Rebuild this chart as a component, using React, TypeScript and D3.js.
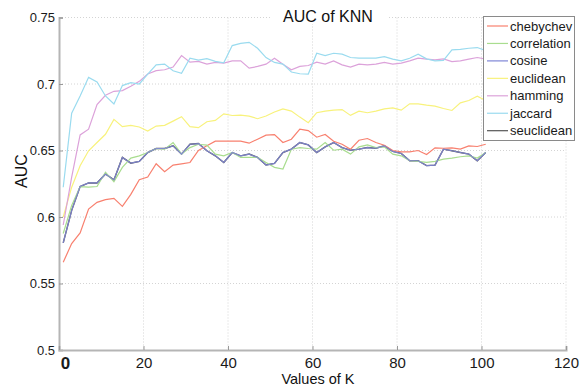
import React, { useEffect, useRef } from "react";
import * as d3 from "d3";

// K = 1, 3, 5, ..., 101
const kValues = d3.range(1, 102, 2);

const seriesNames = ["chebychev", "correlation", "cosine", "euclidean", "hamming", "jaccard", "seuclidean"];

const chebychev = [0.566, 0.580, 0.588, 0.606, 0.611, 0.613, 0.614, 0.608, 0.617, 0.628,
  0.630, 0.640, 0.634, 0.639, 0.640, 0.641, 0.650, 0.6535, 0.657, 0.657,
  0.657, 0.657, 0.6555, 0.6585, 0.6615, 0.662, 0.656, 0.6585, 0.666, 0.665,
  0.660, 0.662, 0.657, 0.6547, 0.651, 0.6577, 0.659, 0.656, 0.654, 0.650,
  0.649, 0.649, 0.650, 0.647, 0.652, 0.6517, 0.652, 0.651, 0.6535, 0.653,
  0.6547];

const correlation = [0.5876, 0.6087, 0.6229, 0.6224, 0.6229, 0.6336, 0.6266, 0.6373, 0.6443, 0.646,
  0.6485, 0.6515, 0.651, 0.656, 0.6473, 0.6522, 0.6547, 0.654, 0.6473, 0.646,
  0.6485, 0.6448, 0.6448, 0.6448, 0.641, 0.6373, 0.6361, 0.651, 0.6522, 0.6515,
  0.651, 0.656, 0.6502, 0.651, 0.6473, 0.6527, 0.6542, 0.6522, 0.6527, 0.6473,
  0.646, 0.6423, 0.6418, 0.6411, 0.6418, 0.6435, 0.6443, 0.6453, 0.646, 0.6443,
  0.6485];

const cosine = [0.5806, 0.605, 0.6229, 0.6256, 0.6256, 0.6323, 0.6279, 0.6448, 0.6405, 0.6418,
  0.6485, 0.6515, 0.6515, 0.6535, 0.6473, 0.6547, 0.6552, 0.6498, 0.646, 0.641,
  0.6485, 0.646, 0.6473, 0.6448, 0.6391, 0.6403, 0.6485, 0.651, 0.656, 0.6542,
  0.6485, 0.6527, 0.656, 0.6522, 0.6502, 0.651, 0.6522, 0.6517, 0.6535, 0.6493,
  0.6478, 0.6423, 0.6423, 0.6386, 0.639, 0.651, 0.6498, 0.6485, 0.6473, 0.6423,
  0.6485];

const euclidean = [0.600, 0.6224, 0.6386, 0.6498, 0.656, 0.6622, 0.6734, 0.6679, 0.6689, 0.6677,
  0.6647, 0.6684, 0.6689, 0.6721, 0.6754, 0.6679, 0.6672, 0.6716, 0.6726, 0.6776,
  0.6763, 0.6766, 0.6759, 0.6739, 0.6759, 0.6789, 0.6813, 0.6796, 0.6751, 0.6709,
  0.6784, 0.6796, 0.6804, 0.6808, 0.6764, 0.6796, 0.6784, 0.6796, 0.6813, 0.6821,
  0.6803, 0.6851, 0.6851, 0.6841, 0.6833, 0.6816, 0.6801, 0.6858, 0.6876, 0.6908,
  0.6876];

const hamming = [0.594, 0.630, 0.6617, 0.666, 0.6846, 0.6915, 0.6945, 0.695, 0.6983, 0.702,
  0.7075, 0.710, 0.7107, 0.7127, 0.7214, 0.7164, 0.717, 0.7149, 0.7162, 0.7157,
  0.7174, 0.7174, 0.7119, 0.7132, 0.7149, 0.7194, 0.7149, 0.7107, 0.7132, 0.7139,
  0.7164, 0.7149, 0.7174, 0.7144, 0.7127, 0.7149, 0.7144, 0.7149, 0.7162, 0.7149,
  0.7157, 0.7174, 0.7194, 0.7187, 0.7182, 0.7189, 0.7169, 0.7174, 0.7187, 0.7199,
  0.7187];

const jaccard = [0.6224, 0.678, 0.691, 0.705, 0.7015, 0.691, 0.685, 0.6988, 0.701, 0.700,
  0.7075, 0.7144, 0.715, 0.710, 0.708, 0.7194, 0.718, 0.719, 0.717, 0.7159,
  0.7289, 0.7306, 0.7313, 0.7269, 0.7199, 0.7162, 0.715, 0.709, 0.7077, 0.7075,
  0.7231, 0.7214, 0.7231, 0.7224, 0.7199, 0.7194, 0.7194, 0.7194, 0.7206, 0.7187,
  0.7174, 0.7194, 0.7224, 0.7189, 0.7174, 0.7177, 0.7256, 0.7261, 0.7269, 0.7274,
  0.7251];

// seuclidean sits right on top of cosine in the picture
const seuclidean = [0.5806, 0.605, 0.6229, 0.6256, 0.6256, 0.6323, 0.6279, 0.6448, 0.6405, 0.6418,
  0.6485, 0.6515, 0.6515, 0.6535, 0.6473, 0.6547, 0.6552, 0.6498, 0.646, 0.641,
  0.6485, 0.646, 0.6473, 0.6448, 0.6391, 0.6403, 0.6485, 0.651, 0.656, 0.6542,
  0.6485, 0.6527, 0.656, 0.6522, 0.6502, 0.651, 0.6522, 0.6517, 0.6535, 0.6493,
  0.6478, 0.6423, 0.6423, 0.6386, 0.639, 0.651, 0.6498, 0.6485, 0.6473, 0.6423,
  0.6485];

const xTicks = [0, 20, 40, 60, 80, 100, 120];
const yTicks = [0.5, 0.55, 0.6, 0.65, 0.7, 0.75];

const colors = ["#f8806f", "#a9dd8f", "#7f86d6", "#f8f27c", "#dca2da", "#9adbef", "#555555"];

const App = () => {
  const svgRef = useRef<SVGSVGElement>(null);

  useEffect(() => {
    const width = 588;
    const height = 387;
    const font = "'Liberation Sans', Arial, sans-serif";

    const svg = d3.select(svgRef.current)
      .attr("width", width)
      .attr("height", height);
    svg.selectAll("*").remove();

    svg.append("rect").attr("width", width).attr("height", height).attr("fill", "#fff");

    const x = d3.scaleLinear().domain([0, 120]).range([59, 566]);
    const y = d3.scaleLinear().domain([0.5, 0.75]).range([350, 17.5]);

    // grid
    const grid = svg.append("g")
      .attr("stroke", "#d4d4d4")
      .attr("stroke-width", 1)
      .attr("stroke-dasharray", "1,2");
    grid.selectAll(".gx")
      .data(xTicks.slice(1))
      .join("line")
      .attr("x1", d => x(d)).attr("x2", d => x(d))
      .attr("y1", y(0.75)).attr("y2", y(0.5));
    grid.selectAll(".gy")
      .data(yTicks.slice(1))
      .join("line")
      .attr("x1", x(0)).attr("x2", x(120))
      .attr("y1", d => y(d)).attr("y2", d => y(d));

    // lines
    const allSeries = [chebychev, correlation, cosine, euclidean, hamming, jaccard, seuclidean];
    const line = d3.line<number>()
      .x((d, i) => x(kValues[i]))
      .y(d => y(d));
    const drawOrder = [6, 0, 1, 3, 4, 5, 2];
    svg.append("g")
      .attr("fill", "none")
      .selectAll("path")
      .data(drawOrder)
      .join("path")
      .attr("d", i => line(allSeries[i]))
      .attr("stroke", i => colors[i])
      .attr("stroke-width", i => (i === 6 ? 1.4 : 1.2))
      .attr("stroke-opacity", i => (i === 2 ? 0.9 : 1));

    // axes
    const yAxis = svg.append("g")
      .attr("transform", `translate(${x(0)},0)`)
      .call(d3.axisLeft(y).tickValues(yTicks).tickFormat(d => String(d)).tickSize(-4).tickPadding(4));
    yAxis.select(".domain").attr("stroke", "#b5b5b5").attr("stroke-width", 2);
    yAxis.selectAll(".tick line").attr("stroke", "#999");
    yAxis.selectAll(".tick text")
      .attr("font-family", font)
      .attr("font-size", 13)
      .attr("fill", "#1a1a1a");

    const xAxis = svg.append("g")
      .attr("transform", `translate(0,${y(0.5)})`)
      .call(d3.axisBottom(x).tickValues(xTicks).tickFormat(d => String(d)).tickSize(-4).tickPadding(7));
    xAxis.select(".domain").attr("stroke", "#b5b5b5").attr("stroke-width", 2);
    xAxis.selectAll(".tick line").attr("stroke", "#999");
    xAxis.selectAll(".tick text")
      .attr("font-family", font)
      .attr("font-size", 15)
      .attr("fill", "#1a1a1a");
    xAxis.selectAll<SVGTextElement, number>(".tick text")
      .filter(d => d === 0)
      .attr("x", 6)
      .attr("font-weight", "bold")
      .attr("font-size", 17);

    // title
    svg.append("rect")
      .attr("x", 270).attr("y", 8).attr("width", 118).attr("height", 16)
      .attr("fill", "#fff");
    svg.append("text")
      .attr("x", 328).attr("y", 22)
      .attr("text-anchor", "middle")
      .attr("font-family", font)
      .attr("font-size", 16)
      .attr("fill", "#111")
      .text("AUC of KNN");

    // axis labels
    svg.append("text")
      .attr("transform", "translate(27,171) rotate(-90)")
      .attr("text-anchor", "middle")
      .attr("font-family", font)
      .attr("font-size", 16)
      .attr("fill", "#111")
      .text("AUC");
    svg.append("text")
      .attr("x", 318).attr("y", 384)
      .attr("text-anchor", "middle")
      .attr("font-family", font)
      .attr("font-size", 14.5)
      .attr("fill", "#111")
      .text("Values of K");

    // legend
    const legend = svg.append("g");
    legend.append("rect")
      .attr("x", 483.5).attr("y", 16.5).attr("width", 91).attr("height", 124)
      .attr("fill", "#fff")
      .attr("stroke", "#8a8a8a")
      .attr("stroke-width", 1);
    const item = legend.selectAll(".item")
      .data(seriesNames)
      .join("g")
      .attr("transform", (d, i) => `translate(0,${26 + i * 17.45})`);
    item.append("line")
      .attr("x1", 487).attr("x2", 508)
      .attr("stroke", (d, i) => colors[i])
      .attr("stroke-width", 1.2);
    item.append("text")
      .attr("x", 510).attr("y", 4.5)
      .attr("font-family", font)
      .attr("font-size", 13)
      .attr("fill", "#1a1a1a")
      .text(d => d);
  }, []);

  return <svg ref={svgRef} style={{ position: "absolute", left: 0, top: 0 }} />;
};

export default App;
